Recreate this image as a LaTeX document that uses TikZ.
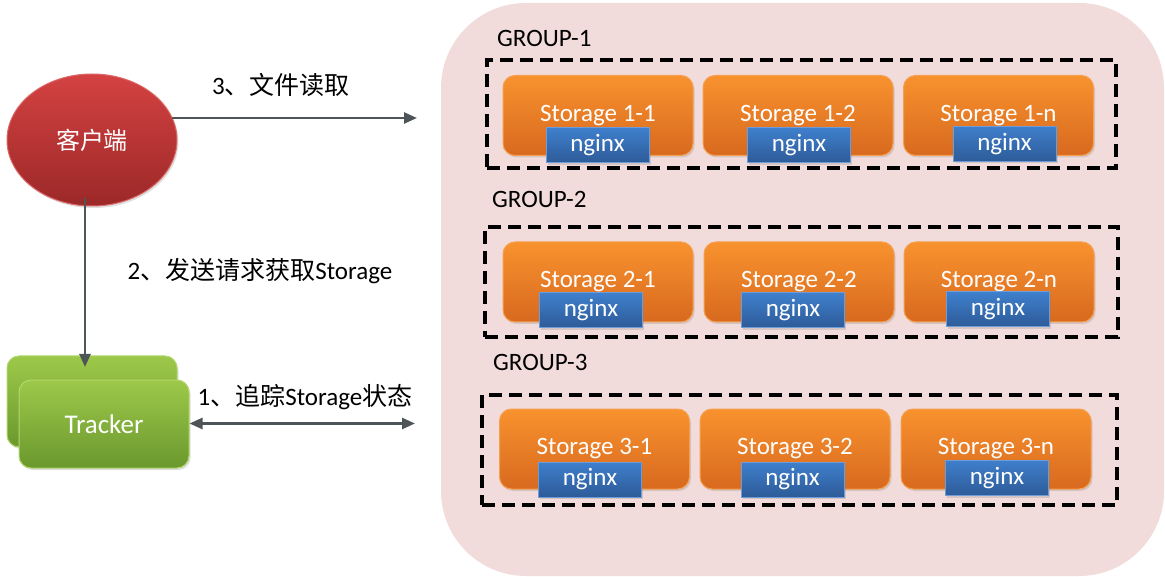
\documentclass[tikz,border=0pt]{standalone}
\usepackage{fontspec}
\setmainfont{Carlito}
\newfontfamily\cjk{Noto Sans CJK SC}
\usetikzlibrary{arrows.meta,shapes.geometric,shadows}
\definecolor{pinkbg}{HTML}{F2DCDB}
\definecolor{orTop}{HTML}{F8922E}
\definecolor{orBot}{HTML}{D8691F}
\definecolor{orEdge}{HTML}{F5A050}
\definecolor{blTop}{HTML}{3F7FCC}
\definecolor{blBot}{HTML}{2D5B98}
\definecolor{blEdge}{HTML}{6D9CD8}
\definecolor{grTop}{HTML}{9DC94A}
\definecolor{grBot}{HTML}{6A982D}
\definecolor{grEdge}{HTML}{B2D66A}
\definecolor{rdTop}{HTML}{D44242}
\definecolor{rdBot}{HTML}{9C2828}
\definecolor{arrowgray}{HTML}{4D5558}
\tikzset{
  x=1pt, y=-1pt,
  bigfont/.style={font=\fontsize{25}{29}\selectfont},
  storagebox/.style={rounded corners=12pt, minimum width=190pt, minimum height=80pt,
    top color=orTop, bottom color=orBot, draw=orEdge, line width=1pt, text=white,
    bigfont, inner sep=0pt, drop shadow={opacity=0.25, shadow xshift=1.5pt, shadow yshift=-2pt}},
  nginxbox/.style={minimum width=103pt, minimum height=35pt, top color=blTop, bottom color=blBot,
    draw=blEdge, line width=1pt, text=white, bigfont, inner sep=0pt,
    drop shadow={opacity=0.25, shadow xshift=1.5pt, shadow yshift=-2pt}},
  trackerbox/.style={rounded corners=12pt, minimum width=170pt, inner sep=0pt,
    top color=grTop, bottom color=grBot, draw=grEdge, line width=1pt, text=white,
    font=\fontsize{27}{31}\selectfont, drop shadow={opacity=0.25, shadow xshift=1.5pt, shadow yshift=-2pt}},
  groupframe/.style={draw=black, line width=3.5pt, dash pattern=on 13pt off 7pt},
  grouplabel/.style={anchor=west, bigfont, inner sep=0pt},
  flowlabel/.style={bigfont, inner sep=0pt},
  connector/.style={draw=arrowgray, line width=2.5pt},
}
\newcommand\mkstorage[6]{%
  \node[storagebox] (#1) at (#2,#3) {\raisebox{-3pt}{#4}};
  \node[nginxbox] (#1n) at (#5,#6) {nginx};
}
\begin{document}
\begin{tikzpicture}
\useasboundingbox (0,0) rectangle (1165,577);
% big background
\path[fill=pinkbg, rounded corners=85pt] (441,3) rectangle (1164,576);
% group frames
\node[groupframe, minimum width=629pt, minimum height=108pt, inner sep=0pt] (g1) at (801.5,114) {};
\node[groupframe, minimum width=633pt, minimum height=110pt, inner sep=0pt] (g2) at (801.5,282) {};
\node[groupframe, minimum width=635pt, minimum height=110pt, inner sep=0pt] (g3) at (799.5,450) {};
\node[grouplabel] (gl1) at (497,38) {GROUP-1};
\node[grouplabel] (gl2) at (492,199) {GROUP-2};
\node[grouplabel] (gl3) at (493,362) {GROUP-3};
% storages row 1
\mkstorage{s11}{598}{115.5}{Storage 1-1}{597.5}{145.5}
\mkstorage{s12}{798}{115.5}{Storage 1-2}{799}{145.5}
\mkstorage{s1n}{998.5}{115.5}{Storage 1-n}{1004.5}{144}
% row 2
\mkstorage{s21}{598}{282}{Storage 2-1}{591}{310.5}
\mkstorage{s22}{799}{282}{Storage 2-2}{793}{310.5}
\mkstorage{s2n}{999}{282}{Storage 2-n}{998}{309.5}
% row 3
\mkstorage{s31}{594.5}{449}{Storage 3-1}{590}{479.5}
\mkstorage{s32}{795}{449}{Storage 3-2}{792.5}{479.5}
\mkstorage{s3n}{996}{449}{Storage 3-n}{997}{478}
% client
\node[ellipse, minimum width=170pt, minimum height=132pt, inner sep=0pt,
  top color=rdTop, bottom color=rdBot, draw=rdTop!80!white, line width=1pt, text=white,
  font=\cjk\fontsize{24}{28}\selectfont,
  drop shadow={opacity=0.25, shadow xshift=1.5pt, shadow yshift=-2pt}] (client) at (92,140) {客户端};
% tracker
\node[trackerbox, minimum height=91pt] (trkback) at (92,401.5) {};
\node[trackerbox, minimum height=88pt] (trk) at (104,424) {Tracker};
% connectors
\coordinate (t3) at (417,118);
\coordinate (t2) at (85,367);
\coordinate (t1) at (415,423.5);
\draw[connector, -{Triangle[length=13pt,width=11pt]}] (t3 -| client.16) -- (t3);
\draw[connector, -{Triangle[length=13pt,width=11pt]}] (client.south -| t2) ++(0,-8) -- (t2);
\draw[connector, {Triangle[length=13pt,width=11pt]}-{Triangle[length=13pt,width=11pt]}] (trk.east |- t1) -- (t1);
% labels
\node[flowlabel] (l3) at (281,85) {3{\cjk 、文件读取}};
\node[flowlabel] (l2) at (260,271) {2{\cjk 、发送请求获取}Storage};
\node[flowlabel] (l1) at (305,397) {1{\cjk 、追踪}Storage{\cjk 状态}};
\end{tikzpicture}
\end{document}
